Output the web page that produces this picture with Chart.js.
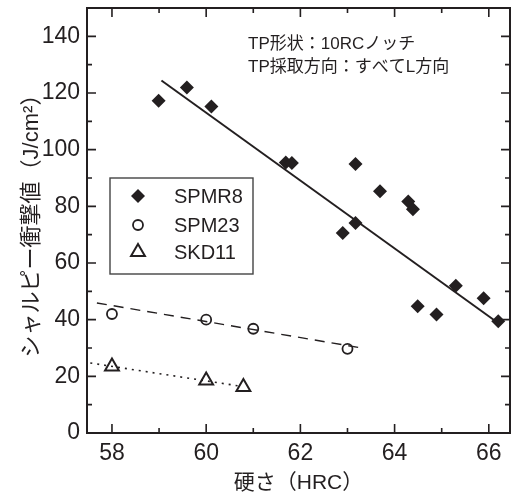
<!DOCTYPE html>
<html><head><meta charset="utf-8">
<script src="https://cdn.jsdelivr.net/npm/chart.js@4"></script>
<style>html,body{margin:0;padding:0;background:#fff;overflow:hidden}canvas{display:block}</style>
</head><body>
<canvas id="c" width="511" height="499"></canvas>
<script>
// ---- data ----
const seriesNames = ['SPMR8', 'SPM23', 'SKD11'];
const spmr8X = [58.99, 59.59, 60.11, 61.69, 61.82, 63.17, 63.69, 64.29, 64.39, 63.17, 62.90, 65.30, 65.89, 64.49, 64.89, 66.20];
const spmr8Y = [117.3, 121.9, 115.2, 95.5, 95.3, 94.9, 85.3, 81.7, 79.0, 74.1, 70.6, 52.0, 47.6, 44.7, 41.8, 39.4];
const spm23X = [58, 60, 61, 63];
const spm23Y = [42.0, 40.0, 36.8, 29.7];
const skd11X = [58, 60, 60.79];
const skd11Y = [23.5, 18.5, 16.2];
const fitSpmr8X = [59.05, 66.25];
const fitSpmr8Y = [124.4, 38.2];
const fitSpm23X = [57.68, 63.23];
const fitSpm23Y = [45.9, 30.2];
const fitSkd11X = [57.54, 60.7];
const fitSkd11Y = [24.7, 16.6];
const xTickValues = [58, 60, 62, 64, 66];
const xMinorValues = [59, 61, 63, 65];
const yTickValues = [0, 20, 40, 60, 80, 100, 120, 140];
const yMinorValues = [10, 30, 50, 70, 90, 110, 130];
const xTitle = '硬さ（HRC）';
const yTitle = 'シャルピー衝撃値（J/cm²）';
const noteLines = ['TP形状：10RCノッチ', 'TP採取方向：すべてL方向'];

const INK = '#231f20';
const FAM = "'Liberation Sans', 'Noto Sans CJK JP', sans-serif";
const pts = (xs, ys) => xs.map((x, i) => ({x: x, y: ys[i]}));

const markerStyles = [
  {pointStyle: 'rectRot', radius: 7, backgroundColor: INK, borderColor: INK, borderWidth: 0, rotation: 0},
  {pointStyle: 'circle', radius: 5, backgroundColor: 'rgba(0,0,0,0)', borderColor: INK, borderWidth: 1.8, rotation: 0},
  {pointStyle: 'triangle', radius: 8, backgroundColor: 'rgba(0,0,0,0)', borderColor: INK, borderWidth: 2, rotation: 0}
];

function scatterSet(label, data, m) {
  return {type: 'scatter', label: label, data: data, showLine: false,
    pointStyle: m.pointStyle, pointRadius: m.radius, pointHoverRadius: m.radius,
    pointBackgroundColor: m.backgroundColor, pointBorderColor: m.borderColor,
    pointBorderWidth: m.borderWidth, order: 1};
}
function fitSet(data, dash, w) {
  return {type: 'line', label: '', data: data, showLine: true, pointRadius: 0,
    borderColor: INK, borderWidth: w, borderDash: dash, fill: false, tension: 0, order: 2};
}

const frameTicks = {
  id: 'frameTicks',
  afterDraw(chart) {
    const {ctx, chartArea: a, scales: {x, y}} = chart;
    ctx.save();
    ctx.strokeStyle = INK;
    ctx.lineWidth = 1.6;
    ctx.beginPath();
    const maj = 9, min = 5;
    xTickValues.forEach(v => { const p = x.getPixelForValue(v); ctx.moveTo(p, a.bottom); ctx.lineTo(p, a.bottom - maj); ctx.moveTo(p, a.top); ctx.lineTo(p, a.top + maj); });
    xMinorValues.forEach(v => { const p = x.getPixelForValue(v); ctx.moveTo(p, a.bottom); ctx.lineTo(p, a.bottom - min); ctx.moveTo(p, a.top); ctx.lineTo(p, a.top + min); });
    yTickValues.forEach(v => { const p = y.getPixelForValue(v); ctx.moveTo(a.left, p); ctx.lineTo(a.left + maj, p); ctx.moveTo(a.right, p); ctx.lineTo(a.right - maj, p); });
    yMinorValues.forEach(v => { const p = y.getPixelForValue(v); ctx.moveTo(a.left, p); ctx.lineTo(a.left + min, p); ctx.moveTo(a.right, p); ctx.lineTo(a.right - min, p); });
    ctx.stroke();
    ctx.lineWidth = 2;
    ctx.strokeRect(a.left, a.top, a.right - a.left, a.bottom - a.top);

    // annotation
    ctx.fillStyle = INK;
    ctx.font = "17px 'Liberation Sans', 'Noto Sans CJK JP', sans-serif";
    ctx.textAlign = 'left';
    ctx.textBaseline = 'middle';
    ctx.fillText(noteLines[0], a.left + 161, a.top + 36);
    ctx.fillText(noteLines[1], a.left + 161, a.top + 59);

    // legend box
    const bx = 110, by = 178, bw = 143, bh = 96;
    ctx.lineWidth = 1.4;
    ctx.strokeStyle = '#444';
    ctx.strokeRect(bx, by, bw, bh);
    ctx.font = "20px 'Liberation Sans', sans-serif";
    const rows = [196, 225, 252];
    seriesNames.forEach((n, i) => {
      const m = markerStyles[i];
      if (Chart.helpers && Chart.helpers.drawPoint) {
        ctx.fillStyle = m.backgroundColor; ctx.strokeStyle = m.borderColor; ctx.lineWidth = m.borderWidth;
        Chart.helpers.drawPoint(ctx, {pointStyle: m.pointStyle, radius: m.radius, rotation: 0, borderWidth: m.borderWidth}, 138, rows[i]);
      }
      ctx.fillStyle = INK;
      ctx.fillText(n, 174, rows[i] + 1);
    });
    ctx.restore();
  }
};

new Chart(document.getElementById('c'), {
  data: {
    datasets: [
      scatterSet(seriesNames[0], pts(spmr8X, spmr8Y), markerStyles[0]),
      scatterSet(seriesNames[1], pts(spm23X, spm23Y), markerStyles[1]),
      scatterSet(seriesNames[2], pts(skd11X, skd11Y), markerStyles[2]),
      fitSet(pts(fitSpmr8X, fitSpmr8Y), [], 2),
      fitSet(pts(fitSpm23X, fitSpm23Y), [10, 7], 1.4),
      fitSet(pts(fitSkd11X, fitSkd11Y), [2, 5], 1.6)
    ]
  },
  options: {
    responsive: false, animation: false, devicePixelRatio: 1,
    layout: {autoPadding: false, padding: {top: 8, right: 1, left: 0, bottom: 0}},
    plugins: {legend: {display: false}, tooltip: {enabled: false}},
    scales: {
      x: {
        type: 'linear', min: 57.47, max: 66.45,
        grid: {display: false, drawTicks: false}, border: {display: false},
        ticks: {includeBounds: false, autoSkip: false, maxRotation: 0, padding: 7, color: INK, font: {family: FAM, size: 23}},
        afterBuildTicks(s) { s.ticks = xTickValues.map(v => ({value: v})); },
        afterFit(s) { s.height = 66; s.paddingLeft = 0; s.paddingRight = 0; },
        title: {display: true, text: xTitle, color: INK, font: {family: FAM, size: 21}, padding: {top: 0, bottom: 3}}
      },
      y: {
        type: 'linear', min: 0, max: 150,
        grid: {display: false, drawTicks: false}, border: {display: false},
        ticks: {includeBounds: false, autoSkip: false, padding: 7, color: INK, font: {family: FAM, size: 23}},
        afterBuildTicks(s) { s.ticks = yTickValues.map(v => ({value: v})); },
        afterFit(s) { s.width = 87; s.paddingTop = 0; s.paddingBottom = 0; },
        title: {display: true, text: yTitle, color: INK, font: {family: FAM, size: 22}, padding: {top: 19, bottom: 0}}
      }
    }
  },
  plugins: [frameTicks]
});
</script>
</body></html>
